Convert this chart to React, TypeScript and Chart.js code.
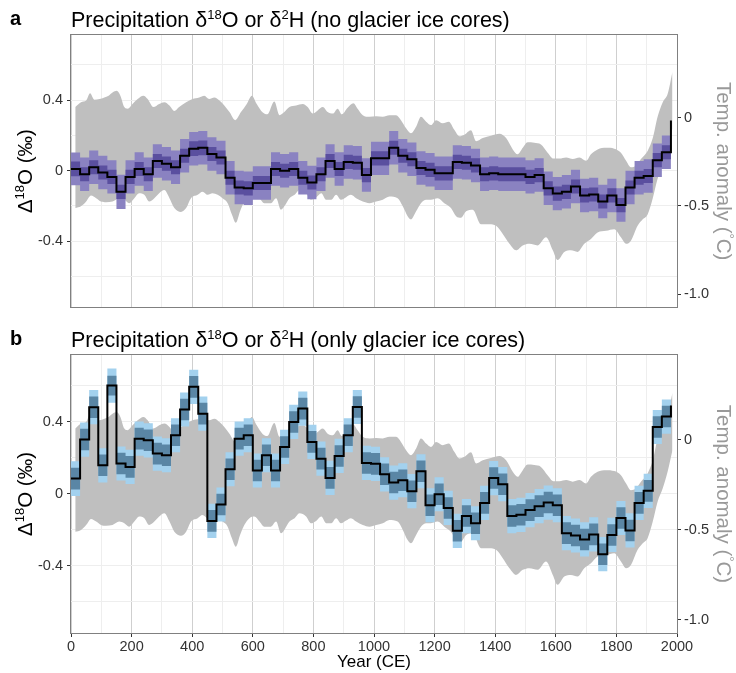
import React, { useEffect, useRef } from 'react';
import { Chart, registerables } from 'chart.js';

Chart.register(...registerables);

const FONT = '"Liberation Sans", Arial, Helvetica, sans-serif';

// 30-year bin starts (last entry closes the final bin)
const binStarts = [0, 30, 60, 90, 120, 150, 180, 210, 240, 270, 300, 330, 360, 390, 420, 450, 480, 510, 540, 570, 600, 630, 660, 690, 720, 750, 780, 810, 840, 870, 900, 930, 960, 990, 1020, 1050, 1080, 1110, 1140, 1170, 1200, 1230, 1260, 1290, 1320, 1350, 1380, 1410, 1440, 1470, 1500, 1530, 1560, 1590, 1620, 1650, 1680, 1710, 1740, 1770, 1800, 1830, 1860, 1890, 1920, 1950, 1980];

// Panel a: Δ18O (no glacier ice cores)
const aLine = [
  0.01, -0.02, 0.02, -0.01, -0.035, -0.12, -0.035, 0.01, -0.02, 0.055,
  0.04, 0.02, 0.085, 0.125, 0.13, 0.095, 0.075, -0.04, -0.095, -0.1,
  -0.07, -0.07, 0.01, 0.0, 0.01, -0.04, -0.067, -0.02, 0.055, 0.01,
  0.05, 0.045, -0.025, 0.07, 0.07, 0.13, 0.085, 0.065, 0.015, 0.005,
  -0.015, -0.015, 0.05, 0.045, 0.03, -0.02, -0.015, -0.02, -0.02, -0.02,
  -0.035, -0.025, -0.1, -0.13, -0.12, -0.09, -0.14, -0.135, -0.175, -0.14,
  -0.195, -0.095, -0.04, -0.03, 0.06, 0.105,
  0.285,
];
const aOuterHalf = [
  0.093, 0.095, 0.095, 0.095, 0.095, 0.097, 0.095, 0.095, 0.095, 0.095,
  0.095, 0.095, 0.095, 0.095, 0.095, 0.095, 0.095, 0.095, 0.095, 0.095,
  0.095, 0.095, 0.095, 0.095, 0.095, 0.095, 0.095, 0.095, 0.095, 0.095,
  0.095, 0.095, 0.095, 0.095, 0.095, 0.095, 0.095, 0.095, 0.095, 0.095,
  0.095, 0.095, 0.095, 0.095, 0.095, 0.095, 0.095, 0.095, 0.095, 0.095,
  0.095, 0.095, 0.095, 0.095, 0.095, 0.095, 0.095, 0.095, 0.095, 0.095,
  0.095, 0.095, 0.095, 0.095, 0.095, 0.095,
];
const aInnerHalf = [
  0.042, 0.04, 0.04, 0.04, 0.04, 0.04, 0.04, 0.04, 0.04, 0.04,
  0.04, 0.04, 0.04, 0.042, 0.042, 0.04, 0.04, 0.04, 0.04, 0.04,
  0.04, 0.04, 0.04, 0.04, 0.04, 0.04, 0.04, 0.04, 0.04, 0.04,
  0.04, 0.04, 0.04, 0.04, 0.04, 0.04, 0.04, 0.04, 0.04, 0.04,
  0.04, 0.04, 0.04, 0.04, 0.04, 0.04, 0.04, 0.04, 0.04, 0.04,
  0.04, 0.04, 0.04, 0.04, 0.04, 0.04, 0.04, 0.04, 0.04, 0.04,
  0.04, 0.04, 0.04, 0.04, 0.04, 0.04,
];

// Panel b: Δ18O (only glacier ice cores)
const bLine = [
  0.083, 0.3, 0.48, 0.157, 0.6, 0.167, 0.148, 0.305, 0.296, 0.222,
  0.213, 0.324, 0.467, 0.593, 0.444, -0.152, -0.061, 0.135, 0.305, 0.324,
  0.128, 0.213, 0.128, 0.259, 0.398, 0.472, 0.287, 0.194, 0.087, 0.209,
  0.324, 0.481, 0.17, 0.165, 0.107, 0.061, 0.074, 0.013, 0.124, -0.065,
  -0.004, -0.08, -0.207, -0.125, -0.165, -0.052, 0.086, 0.052, -0.125, -0.118,
  -0.092, -0.07, -0.05, -0.065, -0.22, -0.233, -0.255, -0.227, -0.337, -0.23,
  -0.136, -0.205, -0.052, 0.015, 0.37, 0.428,
  0.49,
];
const bOuterHalf = [
  0.097, 0.095, 0.095, 0.095, 0.095, 0.095, 0.095, 0.095, 0.095, 0.095,
  0.095, 0.095, 0.095, 0.095, 0.095, 0.095, 0.095, 0.095, 0.095, 0.095,
  0.095, 0.095, 0.095, 0.095, 0.095, 0.095, 0.095, 0.095, 0.095, 0.095,
  0.095, 0.095, 0.095, 0.095, 0.095, 0.095, 0.095, 0.095, 0.095, 0.095,
  0.095, 0.095, 0.095, 0.095, 0.095, 0.095, 0.095, 0.095, 0.095, 0.095,
  0.095, 0.095, 0.095, 0.095, 0.095, 0.095, 0.095, 0.095, 0.095, 0.095,
  0.095, 0.095, 0.095, 0.095, 0.095, 0.095,
];
const bInnerHalf = [
  0.06, 0.06, 0.06, 0.06, 0.055, 0.06, 0.06, 0.06, 0.06, 0.06,
  0.06, 0.06, 0.06, 0.06, 0.06, 0.06, 0.06, 0.06, 0.06, 0.06,
  0.06, 0.06, 0.06, 0.06, 0.06, 0.06, 0.06, 0.06, 0.06, 0.06,
  0.06, 0.06, 0.06, 0.06, 0.06, 0.06, 0.06, 0.06, 0.06, 0.06,
  0.06, 0.06, 0.06, 0.06, 0.06, 0.06, 0.06, 0.06, 0.06, 0.06,
  0.06, 0.06, 0.06, 0.06, 0.06, 0.06, 0.06, 0.06, 0.06, 0.06,
  0.06, 0.06, 0.06, 0.06, 0.06, 0.06,
];

// Temperature anomaly envelope (°C, right axis)
const tUpperYear = [14, 33, 50, 63, 77, 94, 110, 124, 137, 151, 163, 176, 187, 203, 220, 239, 253, 272, 291, 308, 325, 341, 357, 380, 401, 423, 440, 456, 473, 490, 506, 523, 542, 561, 580, 597, 613, 633, 648, 671, 688, 704, 721, 743, 765, 781, 798, 814, 831, 847, 864, 880, 894, 913, 932, 946, 963, 985, 1007, 1029, 1051, 1073, 1089, 1106, 1122, 1139, 1155, 1172, 1188, 1205, 1227, 1247, 1265, 1282, 1298, 1320, 1337, 1359, 1386, 1414, 1436, 1458, 1474, 1491, 1507, 1529, 1551, 1573, 1592, 1612, 1634, 1656, 1678, 1700, 1716, 1738, 1766, 1793, 1815, 1832, 1848, 1865, 1881, 1903, 1920, 1936, 1953, 1969, 1985];
const tUpperVal = [0.061, 0.089, 0.098, 0.139, 0.103, 0.107, 0.116, 0.126, 0.144, 0.153, 0.126, 0.061, 0.052, 0.079, 0.107, 0.126, 0.107, 0.061, 0.079, 0.089, 0.07, 0.039, 0.061, 0.089, 0.107, 0.116, 0.126, 0.107, 0.116, 0.098, 0.07, 0.033, -0.013, 0.033, 0.079, 0.126, 0.079, 0.03, 0.02, 0.092, 0.015, 0.033, 0.061, 0.07, 0.079, 0.061, 0.024, 0.042, 0.061, 0.033, 0.024, 0.052, 0.02, 0.057, 0.083, 0.052, 0.015, 0.006, 0.009, 0.006, 0.015, 0.015, -0.013, -0.059, -0.087, -0.05, 0.006, -0.022, -0.041, -0.013, -0.031, -0.022, -0.068, -0.105, -0.096, -0.07, -0.133, -0.115, -0.102, -0.091, -0.115, -0.179, -0.207, -0.17, -0.139, -0.142, -0.152, -0.198, -0.231, -0.231, -0.225, -0.234, -0.225, -0.244, -0.207, -0.179, -0.17, -0.175, -0.198, -0.244, -0.281, -0.271, -0.234, -0.188, -0.115, 0.006, 0.089, 0.135, 0.26];
const tLowerYear = [14, 33, 50, 66, 83, 99, 116, 137, 159, 176, 192, 209, 225, 242, 258, 275, 291, 308, 325, 341, 363, 380, 396, 418, 434, 451, 467, 484, 500, 517, 531, 544, 558, 572, 589, 605, 622, 638, 660, 677, 693, 704, 721, 738, 754, 776, 792, 809, 826, 842, 859, 875, 891, 908, 924, 941, 963, 985, 1007, 1029, 1051, 1078, 1095, 1111, 1122, 1139, 1155, 1172, 1188, 1210, 1232, 1254, 1271, 1287, 1304, 1326, 1353, 1381, 1403, 1425, 1447, 1469, 1491, 1513, 1540, 1568, 1590, 1606, 1628, 1650, 1672, 1694, 1716, 1738, 1766, 1793, 1815, 1832, 1848, 1870, 1887, 1903, 1920, 1936, 1953, 1969, 1985];
const tLowerVal = [-0.512, -0.502, -0.475, -0.441, -0.456, -0.475, -0.479, -0.475, -0.456, -0.465, -0.484, -0.456, -0.428, -0.437, -0.475, -0.456, -0.428, -0.41, -0.456, -0.512, -0.534, -0.512, -0.456, -0.437, -0.419, -0.437, -0.428, -0.437, -0.456, -0.484, -0.548, -0.595, -0.53, -0.475, -0.437, -0.428, -0.456, -0.484, -0.484, -0.456, -0.521, -0.502, -0.456, -0.437, -0.41, -0.428, -0.465, -0.452, -0.428, -0.465, -0.465, -0.437, -0.465, -0.45, -0.437, -0.456, -0.475, -0.484, -0.475, -0.465, -0.447, -0.456, -0.502, -0.558, -0.576, -0.53, -0.484, -0.465, -0.465, -0.456, -0.484, -0.512, -0.558, -0.567, -0.53, -0.521, -0.604, -0.604, -0.613, -0.659, -0.715, -0.752, -0.724, -0.715, -0.724, -0.678, -0.752, -0.807, -0.761, -0.752, -0.761, -0.715, -0.687, -0.65, -0.641, -0.632, -0.678, -0.715, -0.697, -0.613, -0.576, -0.548, -0.456, -0.345, -0.271, -0.179, -0.06];

// Axis ticks
const xTicks = [0, 100, 200, 300, 400, 500, 600, 700, 800, 900, 1000, 1100, 1200, 1300, 1400, 1500, 1600, 1700, 1800, 1900, 2000];
const yTicks = [-0.6, -0.4, -0.2, 0, 0.2, 0.4, 0.6];
const yTickLabels = ['', '-0.4', '', '0', '', '0.4', ''];
const y2Ticks = [-1, -0.5, 0];
const y2TickLabels = ['-1.0', '-0.5', '0'];

type Seg = { t: string; sup?: boolean };

function richWidth(ctx: CanvasRenderingContext2D, segs: Seg[], size: number, weight = 'normal') {
  let w = 0;
  for (const s of segs) {
    ctx.font = `${weight} ${s.sup ? Math.round(size * 0.62) : size}px ${FONT}`;
    w += ctx.measureText(s.t).width;
  }
  return w;
}

function drawRich(ctx: CanvasRenderingContext2D, segs: Seg[], x: number, y: number, size: number) {
  let cx = x;
  for (const s of segs) {
    const fs = s.sup ? Math.round(size * 0.62) : size;
    ctx.font = `normal ${fs}px ${FONT}`;
    ctx.fillText(s.t, cx, s.sup ? y - size * 0.38 : y);
    cx += ctx.measureText(s.t).width;
  }
}

function makePlugin(letter: string, title: Seg[], showXTitle: boolean) {
  return {
    id: 'decor' + letter,
    afterDraw(chart: any) {
      const ctx: CanvasRenderingContext2D = chart.ctx;
      const a = chart.chartArea;
      ctx.save();
      ctx.strokeStyle = '#808080';
      ctx.lineWidth = 1;
      ctx.strokeRect(Math.round(a.left) - 0.5, Math.round(a.top) - 0.5, Math.round(a.right - a.left) + 1, Math.round(a.bottom - a.top) + 1);

      ctx.fillStyle = '#000';
      ctx.textBaseline = 'alphabetic';
      ctx.textAlign = 'left';
      ctx.font = `bold 20px ${FONT}`;
      ctx.fillText(letter, 10, 25);
      drawRich(ctx, title, 71, 27, 21.5);

      const cy = (a.top + a.bottom) / 2;
      const lt: Seg[] = [{ t: 'Δ' }, { t: '18', sup: true }, { t: 'O (‰)' }];
      ctx.save();
      ctx.translate(25, cy);
      ctx.rotate(-Math.PI / 2);
      const lw = richWidth(ctx, lt, 20.5);
      ctx.fillStyle = '#000';
      drawRich(ctx, lt, -lw / 2, 7, 20.5);
      ctx.restore();

      const rt: Seg[] = [{ t: 'Temp. anomaly (' }, { t: '°', sup: true }, { t: 'C)' }];
      ctx.save();
      ctx.translate(724, cy);
      ctx.rotate(Math.PI / 2);
      const rw = richWidth(ctx, rt, 20.5);
      ctx.fillStyle = '#999999';
      drawRich(ctx, rt, -rw / 2, 7, 20.5);
      ctx.restore();

      if (showXTitle) {
        ctx.fillStyle = '#000';
        ctx.font = `normal 17px ${FONT}`;
        ctx.textAlign = 'center';
        ctx.fillText('Year (CE)', (a.left + a.right) / 2, 347);
      }
      ctx.restore();
    },
  };
}

function makeConfig(line: number[], outerHalf: number[], innerHalf: number[], colors: { outer: string; inner: string }, showX: boolean, letter: string, title: Seg[]) {
  const last = outerHalf.length - 1;
  const band = (half: number[], sign: number) =>
    binStarts.map((x, i) => {
      const k = Math.min(i, last);
      return { x, y: line[k] + sign * half[k] };
    });
  const pts = (xs: number[], ys: number[]) => xs.map((x, i) => ({ x, y: ys[i] }));
  const common = { pointRadius: 0, borderWidth: 0 };
  return {
    type: 'line',
    data: {
      datasets: [
        { ...common, order: 10, data: pts(tUpperYear, tUpperVal), yAxisID: 'y2', fill: '+1', backgroundColor: '#bfbfbf', borderColor: 'rgba(0,0,0,0)', cubicInterpolationMode: 'monotone' },
        { ...common, order: 9, data: pts(tLowerYear, tLowerVal), yAxisID: 'y2', fill: false, borderColor: 'rgba(0,0,0,0)', cubicInterpolationMode: 'monotone' },
        { ...common, order: 8, data: band(outerHalf, 1), yAxisID: 'y', stepped: true, fill: '+1', backgroundColor: colors.outer, borderColor: 'rgba(0,0,0,0)' },
        { ...common, order: 7, data: band(outerHalf, -1), yAxisID: 'y', stepped: true, fill: false, borderColor: 'rgba(0,0,0,0)' },
        { ...common, order: 6, data: band(innerHalf, 1), yAxisID: 'y', stepped: true, fill: '+1', backgroundColor: colors.inner, borderColor: 'rgba(0,0,0,0)' },
        { ...common, order: 5, data: band(innerHalf, -1), yAxisID: 'y', stepped: true, fill: false, borderColor: 'rgba(0,0,0,0)' },
        { order: 0, pointRadius: 0, data: binStarts.map((x, i) => ({ x, y: line[i] })), yAxisID: 'y', stepped: true, fill: false, borderColor: '#000', borderWidth: 2 },
      ],
    },
    options: {
      responsive: false,
      animation: false,
      devicePixelRatio: 1,
      layout: { padding: { top: 35, left: 0, right: 0, bottom: 0 } },
      plugins: { legend: { display: false }, tooltip: { enabled: false }, title: { display: false } },
      scales: {
        x: {
          type: 'linear',
          min: 0,
          max: 2000,
          afterBuildTicks: (s: any) => { s.ticks = xTicks.map((v) => ({ value: v })); },
          afterFit: (s: any) => { s.height = showX ? 40 : 7; },
          border: { display: false },
          grid: {
            color: (c: any) => (c.tick && c.tick.value % 200 === 0 ? '#cfcfcf' : '#eeeeee'),
            drawTicks: showX,
            tickLength: 4,
            tickColor: (c: any) => (c.tick && c.tick.value % 200 === 0 ? '#333333' : 'rgba(0,0,0,0)'),
          },
          ticks: {
            display: showX,
            autoSkip: false,
            maxRotation: 0,
            padding: 1,
            color: '#333333',
            font: { family: FONT, size: 14.5 },
            callback: (v: any) => (Number(v) % 200 === 0 ? String(v) : ''),
          },
        },
        y: {
          type: 'linear',
          position: 'left',
          min: -0.775,
          max: 0.77,
          afterBuildTicks: (s: any) => { s.ticks = yTicks.map((v) => ({ value: v })); },
          afterFit: (s: any) => { s.width = 71; },
          border: { display: false },
          grid: {
            color: '#eeeeee',
            tickLength: 4,
            tickColor: (c: any) => (yTickLabels[c.index] ? '#333333' : 'rgba(0,0,0,0)'),
          },
          ticks: {
            padding: 4,
            color: '#333333',
            font: { family: FONT, size: 14.5 },
            callback: (_v: any, i: number) => yTickLabels[i],
          },
        },
        y2: {
          type: 'linear',
          position: 'right',
          min: -1.075,
          max: 0.47,
          afterBuildTicks: (s: any) => { s.ticks = y2Ticks.map((v) => ({ value: v })); },
          afterFit: (s: any) => { s.width = 59; },
          border: { display: false },
          grid: { drawOnChartArea: false, tickLength: 4, tickColor: '#333333' },
          ticks: {
            padding: 3,
            color: '#333333',
            font: { family: FONT, size: 14.5 },
            callback: (_v: any, i: number) => y2TickLabels[i],
          },
        },
      },
    },
    plugins: [makePlugin(letter, title, showX)],
  };
}

const titleA: Seg[] = [{ t: 'Precipitation δ' }, { t: '18', sup: true }, { t: 'O or δ' }, { t: '2', sup: true }, { t: 'H (no glacier ice cores)' }];
const titleB: Seg[] = [{ t: 'Precipitation δ' }, { t: '18', sup: true }, { t: 'O or δ' }, { t: '2', sup: true }, { t: 'H (only glacier ice cores)' }];

export default function App() {
  const refA = useRef<HTMLCanvasElement>(null);
  const refB = useRef<HTMLCanvasElement>(null);
  useEffect(() => {
    const ca = new Chart(refA.current as HTMLCanvasElement, makeConfig(aLine, aOuterHalf, aInnerHalf, { outer: '#8a82c1', inner: '#5a4f9f' }, false, 'a', titleA) as any);
    const cb = new Chart(refB.current as HTMLCanvasElement, makeConfig(bLine, bOuterHalf, bInnerHalf, { outer: '#a3d1ee', inner: '#5a86a5' }, true, 'b', titleB) as any);
    return () => { ca.destroy(); cb.destroy(); };
  }, []);
  return (
    <div style={{ position: 'absolute', left: 0, top: 0, width: 736, height: 673, background: '#fff' }}>
      <canvas ref={refA} width={736} height={320} style={{ position: 'absolute', left: 0, top: 0, width: 736, height: 320 }} />
      <canvas ref={refB} width={736} height={353} style={{ position: 'absolute', left: 0, top: 320, width: 736, height: 353 }} />
    </div>
  );
}
